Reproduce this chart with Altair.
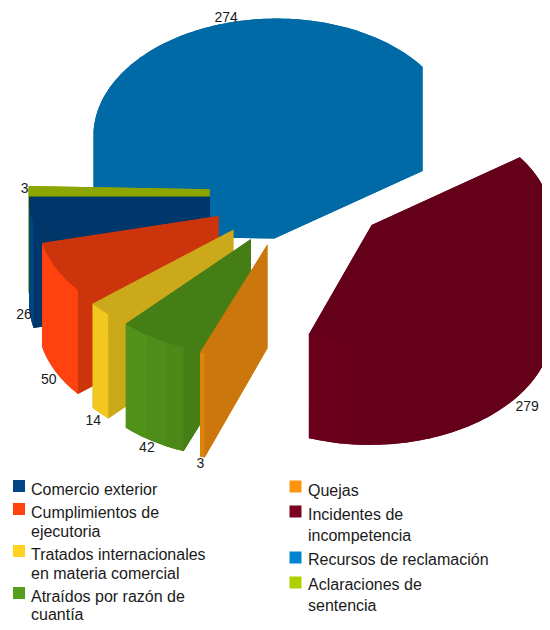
import math
import altair as alt
import pandas as pd

categories = ["Comercio exterior", "Cumplimientos de ejecutoria",
              "Tratados internacionales en materia comercial",
              "Atraídos por razón de cuantía", "Quejas",
              "Incidentes de incompetencia", "Recursos de reclamación",
              "Aclaraciones de sentencia"]
values = [26, 50, 14, 42, 3, 279, 274, 3]
colors = ["#004586", "#ff420e", "#ffd320", "#579d1c",
          "#ff950e", "#7e0021", "#0084d1", "#aecf00"]
left_lines = [["Comercio exterior"], ["Cumplimientos de", "ejecutoria"],
              ["Tratados internacionales", "en materia comercial"],
              ["Atraídos por razón de", "cuantía"]]
right_lines = [["Quejas"], ["Incidentes de", "incompetencia"],
               ["Recursos de reclamación"], ["Aclaraciones de", "sentencia"]]

PM = 8
CX, CY = 300 - PM, 190 - PM
AX, AY = -181.0, 0.0
BX, BY = -2.0, 116.0
DEPTH = 104.0
EXPLODE = 0.5


def R(deg):
    t = math.radians(deg)
    return AX * math.cos(t) + BX * math.sin(t), AY * math.cos(t) + BY * math.sin(t)


def shade(hex_color, f):
    rgb = [int(hex_color[i:i + 2], 16) for i in (1, 3, 5)]
    return "#%02x%02x%02x" % tuple(min(255, round(c * f)) for c in rgb)


def wall_factor(deg):
    bucket = math.floor((deg - 7) / 8) * 8 + 7
    table = {39: 0.95, 47: 0.93, 55: 0.90, 63: 0.87, 71: 0.84, 79: 0.83, 87: 0.82}
    if bucket < 39:
        return 1.0
    return table.get(bucket, 0.8)


def face(coords, color):
    ring = [list(c) for c in coords] + [list(coords[0])]
    return {"type": "Feature", "properties": {"color": color},
            "geometry": {"type": "Polygon", "coordinates": [ring]}}


def hull(points):
    pts = sorted(set(points))

    def half(seq):
        out = []
        for p in seq:
            while len(out) > 1 and ((out[-1][0] - out[-2][0]) * (p[1] - out[-2][1])
                                    - (out[-1][1] - out[-2][1]) * (p[0] - out[-2][0])) <= 0:
                out.pop()
            out.append(p)
        return out[:-1]

    return half(pts) + half(pts[::-1])


total = sum(values)
spans = []
acc = 0.0
for v in values:
    spans.append((acc * 360 / total, (acc + v) * 360 / total))
    acc += v

draw_order = [6, 7, 0, 1, 2, 3, 4, 5]
features = []
labels = []
nudges = {0: (-6, 0), 1: (-7, 8), 2: (-7, 8), 3: (-6, 7), 4: (-2, 7), 5: (12, 8), 6: (3, -6), 7: (-4, 1)}

for i in draw_order:
    a0, a1 = spans[i]
    col = colors[i]
    mid = (a0 + a1) / 2
    mx, my = R(mid)
    ax, ay = CX + EXPLODE * mx, CY + EXPLODE * my
    n = max(2, math.ceil((a1 - a0) / 1.5))
    arc_angles = [a0 + (a1 - a0) * k / n for k in range(n + 1)]
    arc = [(ax + R(a)[0], ay + R(a)[1]) for a in arc_angles]
    top = [(ax, ay)] + arc
    gx = sum(p[0] for p in top) / len(top)
    gy = sum(p[1] for p in top) / len(top)

    def front(p, q):
        dx, dy = q[0] - p[0], q[1] - p[1]
        nx, ny = dy, -dx
        if nx * ((p[0] + q[0]) / 2 - gx) + ny * ((p[1] + q[1]) / 2 - gy) < 0:
            nx, ny = -nx, -ny
        return ny > 0

    def side(p, q, c):
        features.append(face([p, q, (q[0], q[1] + DEPTH), (p[0], p[1] + DEPTH)], c))

    dark = shade(col, 0.8)
    features.append(face(hull(top + [(p[0], p[1] + DEPTH) for p in top]), dark))
    if front(top[0], arc[0]):
        side(top[0], arc[0], dark)
    if front(arc[-1], top[0]):
        side(arc[-1], top[0], dark)

    run, run_col = [], None
    for k in range(n):
        if not front(arc[k], arc[k + 1]):
            continue
        m = (arc_angles[k] + arc_angles[k + 1]) / 2
        c = shade(col, wall_factor(m))
        if c != run_col and run:
            features.append(face(run + [(p[0], p[1] + DEPTH) for p in run[::-1]], run_col))
            run = [run[-1]]
        if not run:
            run = [arc[k]]
        run.append(arc[k + 1])
        run_col = c
    if run:
        features.append(face(run + [(p[0], p[1] + DEPTH) for p in run[::-1]], run_col))
    features.append(face(top, dark))

    lx, ly = ax + mx, ay + my
    if my > 0 and abs(mx) < 175 or i == 0:
        ly += DEPTH
    nx, ny = nudges[i]
    labels.append({"x": lx + nx, "y": ly + ny, "t": str(values[i])})

pie = alt.Chart(alt.Data(values=features)).mark_geoshape(strokeWidth=0).encode(
    fill=alt.Color("properties.color:N", scale=None),
).project(type="identity", scale=1, translate=[0, 0])

value_text = alt.Chart(pd.DataFrame(labels)).mark_text(
    font="Liberation Sans", fontSize=14, color="#1a1a1a", align="center", baseline="middle"
).encode(x=alt.X("x:Q", scale=None, axis=None), y=alt.Y("y:Q", scale=None, axis=None), text="t:N")

sq_left = [486, 509, 551, 593]
sq_right = [486.5, 511.5, 557.5, 582.5]
base_left = [[495], [518, 537], [560, 579], [602, 620]]
base_right = [[496], [520, 541], [565], [590, 611]]
squares, lines = [], []
for cx, tx, sq, bases, rows, start in ((19, 31, sq_left, base_left, left_lines, 0),
                                       (295.5, 308, sq_right, base_right, right_lines, 4)):
    for j, row in enumerate(rows):
        squares.append({"x": cx - PM, "y": sq[j] - PM, "c": colors[start + j]})
        for b, s in zip(bases[j], row):
            lines.append({"x": tx - PM, "y": b - PM, "t": s})

sq_chart = alt.Chart(pd.DataFrame(squares)).mark_square(size=144, opacity=1).encode(
    x=alt.X("x:Q", scale=None, axis=None), y=alt.Y("y:Q", scale=None, axis=None),
    color=alt.Color("c:N", scale=None))
legend_text = alt.Chart(pd.DataFrame(lines)).mark_text(
    font="Liberation Sans", fontSize=16, color="#1a1a1a", align="left", baseline="alphabetic"
).encode(x=alt.X("x:Q", scale=None, axis=None), y=alt.Y("y:Q", scale=None, axis=None), text="t:N")

chart = alt.layer(pie, sq_chart, legend_text, value_text).properties(
    width=534, height=614, padding=0, autosize=alt.AutoSizeParams(type="none")
).configure_view(stroke=None)

chart.save("out.html", embed_options={"renderer": "svg", "actions": False})
